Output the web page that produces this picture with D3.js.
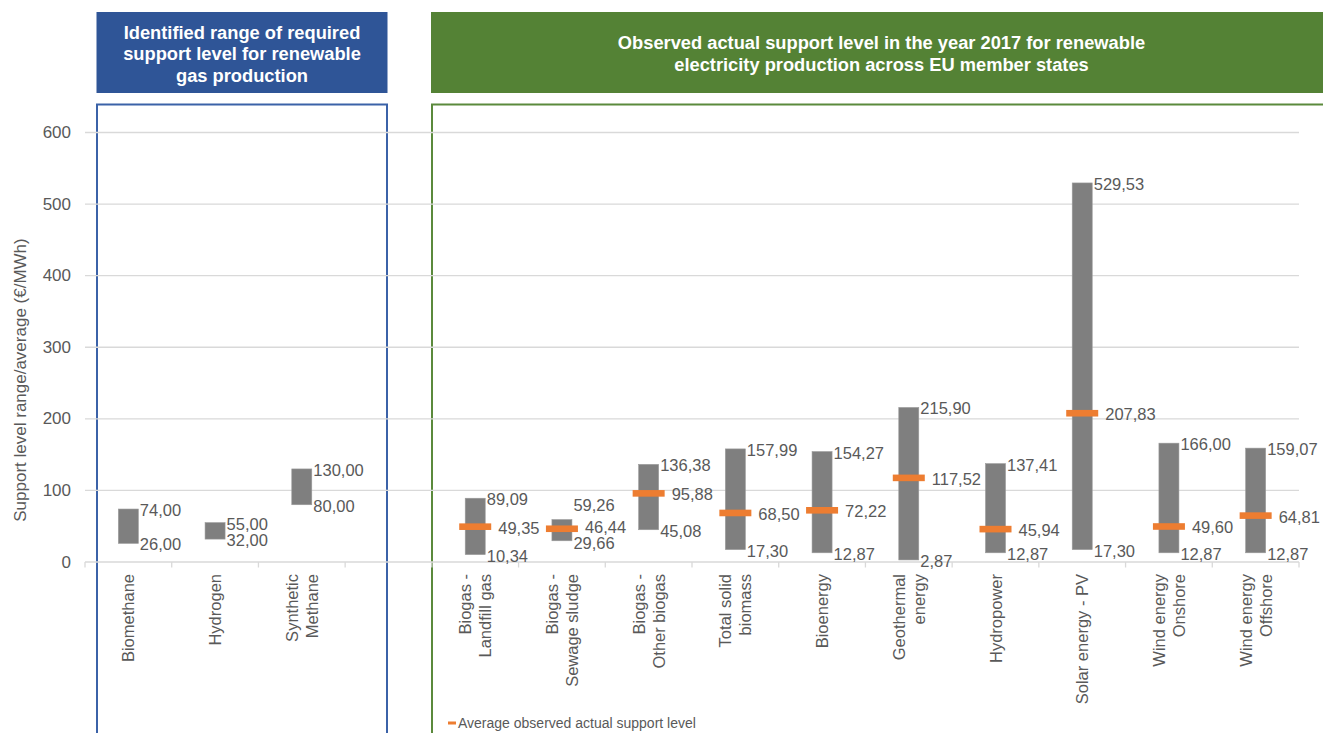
<!DOCTYPE html>
<html>
<head>
<meta charset="utf-8">
<script src="https://cdn.jsdelivr.net/npm/d3@7/dist/d3.min.js"></script>
<style>
  html, body { margin: 0; padding: 0; background: #fff; }
  svg { display: block; font-family: "Liberation Sans", Arial, sans-serif; }
</style>
</head>
<body>
<svg id="chart" width="1323" height="733"></svg>
<script>
// Required support range for renewable gas (€/MWh)
const gasCategories = ["Biomethane", "Hydrogen", "Synthetic\nMethane"];
const gasMin = [26.00, 32.00, 80.00];
const gasMax = [74.00, 55.00, 130.00];

// Observed support level 2017 for renewable electricity (€/MWh)
const elecCategories = [
  "Biogas -\nLandfill gas", "Biogas -\nSewage sludge", "Biogas -\nOther biogas",
  "Total solid\nbiomass", "Bioenergy", "Geothermal\nenergy", "Hydropower",
  "Solar energy - PV", "Wind energy\nOnshore", "Wind energy\nOffshore"
];
const elecMin = [10.34, 29.66, 45.08, 17.30, 12.87, 2.87, 12.87, 17.30, 12.87, 12.87];
const elecMax = [89.09, 59.26, 136.38, 157.99, 154.27, 215.90, 137.41, 529.53, 166.00, 159.07];
const elecAvg = [49.35, 46.44, 95.88, 68.50, 72.22, 117.52, 45.94, 207.83, 49.60, 64.81];

const yTicks = [0, 100, 200, 300, 400, 500, 600];

const gasTitle = ["Identified range of required", "support level for renewable", "gas production"];
const elecTitle = ["Observed actual support level in the year 2017 for renewable", "electricity production across EU member states"];
const yTitle = "Support level range/average (€/MWh)";
const legendText = "Average observed actual support level";

// small vertical nudges so crowded value labels do not collide
const labelNudge = { "Biogas -\nSewage sludge": { max: -16, avg: -3, min: 1 } };

const GREY_TXT = "#595959", GRID = "#d9d9d9", BAR = "#7f7f7f", ORANGE = "#ED7D31";
const BLUE = "#2F5597", BLUE_LINE = "#3b62a8", GREEN = "#548235", GREEN_LINE = "#5b8a3c";

const svg = d3.select("#chart");
svg.append("rect").attr("width", 1323).attr("height", 733).attr("fill", "#fff");

const gap = "";
const domain = [...gasCategories, gap, ...elecCategories];
const x = d3.scaleBand().domain(domain).range([85, 1299]).padding(0);
const y = d3.scaleLinear().domain([0, 600]).range([562, 132.5]);

const fmt = v => d3.format(".2f")(v).replace(".", ",");
const barW = 20;

// panel headers and frames
const blueX0 = 96.5, blueX1 = 387.5;
svg.append("rect").attr("x", blueX0).attr("y", 12).attr("width", blueX1 - blueX0).attr("height", 81).attr("fill", BLUE);
svg.append("rect").attr("x", 97).attr("y", 104.5).attr("width", 290).attr("height", 700)
  .attr("fill", "none").attr("stroke", BLUE_LINE).attr("stroke-width", 2);
const greenX0 = 431;
svg.append("rect").attr("x", greenX0).attr("y", 12).attr("width", 901).attr("height", 81).attr("fill", GREEN);
svg.append("rect").attr("x", 432).attr("y", 104.5).attr("width", 920).attr("height", 700)
  .attr("fill", "none").attr("stroke", GREEN_LINE).attr("stroke-width", 2);

svg.append("text").attr("text-anchor", "middle").attr("fill", "#fff")
  .attr("font-weight", "bold").attr("font-size", 18.3)
  .selectAll("tspan").data(gasTitle).join("tspan")
  .attr("x", (blueX0 + blueX1) / 2).attr("y", (d, i) => 32 + i * 21.5)
  .attr("dominant-baseline", "central").text(d => d);

svg.append("text").attr("text-anchor", "middle").attr("fill", "#fff")
  .attr("font-weight", "bold").attr("font-size", 18.3)
  .selectAll("tspan").data(elecTitle).join("tspan")
  .attr("x", 881.5).attr("y", (d, i) => 42 + i * 22.5)
  .attr("dominant-baseline", "central").text(d => d);

// gridlines
svg.append("g").selectAll("line").data(yTicks).join("line")
  .attr("x1", 85).attr("x2", 1299)
  .attr("y1", d => y(d)).attr("y2", d => y(d))
  .attr("stroke", GRID).attr("stroke-width", 1.3);

// y axis labels
svg.append("g").selectAll("text").data(yTicks).join("text")
  .attr("x", 71).attr("y", d => y(d)).attr("text-anchor", "end")
  .attr("dominant-baseline", "central").attr("font-size", 17).attr("fill", GREY_TXT)
  .text(d => d);

svg.append("text").attr("transform", "translate(20,380) rotate(-90)")
  .attr("text-anchor", "middle").attr("dominant-baseline", "central")
  .attr("font-size", 17).attr("fill", GREY_TXT).text(yTitle);

// category tick marks below the baseline
const bounds = domain.map(d => x(d)).concat([x.range()[1]]);
svg.append("g").selectAll("line").data(bounds).join("line")
  .attr("x1", d => d).attr("x2", d => d).attr("y1", y(0)).attr("y2", y(0) + 5.5)
  .attr("stroke", GRID).attr("stroke-width", 1.3);

// category labels, rotated, right-aligned to the axis
const catG = svg.append("g");
domain.filter(d => d !== gap).forEach(cat => {
  const lines = cat.split("\n");
  const cx = x(cat) + x.bandwidth() / 2;
  lines.forEach((ln, i) => {
    const lx = cx + (i - (lines.length - 1) / 2) * 20;
    catG.append("text")
      .attr("transform", `translate(${lx},574) rotate(-90)`)
      .attr("text-anchor", "end").attr("dominant-baseline", "central")
      .attr("font-size", 16.5).attr("fill", GREY_TXT).text(ln);
  });
});

// range bars
const gasData = gasCategories.map((c, i) => ({ cat: c, min: gasMin[i], max: gasMax[i] }));
const elecData = elecCategories.map((c, i) => ({ cat: c, min: elecMin[i], max: elecMax[i], avg: elecAvg[i] }));
const allBars = gasData.concat(elecData);
const cxOf = d => x(d.cat) + x.bandwidth() / 2;

svg.append("g").selectAll("rect").data(allBars).join("rect")
  .attr("x", d => cxOf(d) - barW / 2).attr("width", barW)
  .attr("y", d => y(d.max)).attr("height", d => y(d.min) - y(d.max))
  .attr("fill", BAR).attr("stroke", "#9a9a9a").attr("stroke-width", 0.6);

// average markers
svg.append("g").selectAll("rect").data(elecData).join("rect")
  .attr("x", d => cxOf(d) - 16).attr("width", 32)
  .attr("y", d => y(d.avg) - 3.3).attr("height", 6.6)
  .attr("fill", ORANGE);

// value labels
const nud = (d, k) => (labelNudge[d.cat] && labelNudge[d.cat][k]) || 0;
const lbl = svg.append("g").attr("font-size", 16.5).attr("fill", GREY_TXT);
lbl.selectAll("text.max").data(allBars).join("text").attr("class", "max")
  .attr("x", d => cxOf(d) + barW / 2 + 1.5).attr("y", d => y(d.max) + 1 + nud(d, "max"))
  .attr("dominant-baseline", "central").text(d => fmt(d.max));
lbl.selectAll("text.min").data(allBars).join("text").attr("class", "min")
  .attr("x", d => cxOf(d) + barW / 2 + 1.5).attr("y", d => y(d.min) + 1 + nud(d, "min"))
  .attr("dominant-baseline", "central").text(d => fmt(d.min));
lbl.selectAll("text.avg").data(elecData).join("text").attr("class", "avg")
  .attr("x", d => cxOf(d) + 23).attr("y", d => y(d.avg) + 1 + nud(d, "avg"))
  .attr("dominant-baseline", "central").text(d => fmt(d.avg));

// legend
svg.append("rect").attr("x", 448).attr("y", 721.5).attr("width", 8).attr("height", 3).attr("fill", ORANGE);
svg.append("text").attr("x", 458).attr("y", 723).attr("dominant-baseline", "central")
  .attr("font-size", 14).attr("fill", GREY_TXT).text(legendText);
</script>
</body>
</html>
